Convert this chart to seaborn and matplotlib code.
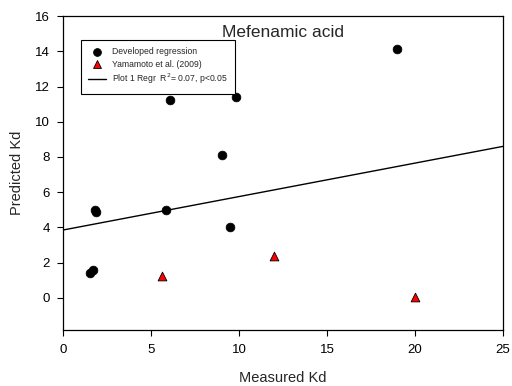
import matplotlib
matplotlib.use("Agg")
import matplotlib.pyplot as plt
import seaborn as sns
import pandas as pd

sns.set_theme(style="white")
plt.rcParams['font.family'] = ['Liberation Sans', 'DejaVu Sans']

# Data
dev_x = [19.0, 6.06, 9.81, 9.0, 1.8, 1.87, 5.83, 9.47, 1.5, 1.68]
dev_y = [14.1, 11.25, 11.42, 8.1, 5.0, 4.87, 5.0, 4.03, 1.42, 1.59]
yam_x = [5.6, 12.0, 20.0]
yam_y = [1.25, 2.39, 0.06]
reg_x = [0, 25]
reg_y = [3.86, 8.6]

fig = plt.figure(figsize=(5.12, 3.86), dpi=100)
ax = fig.add_axes([0.124, 0.145, 0.858, 0.8135])

sns.scatterplot(x=dev_x, y=dev_y, ax=ax, color='black', marker='o', s=40,
                edgecolor='black', linewidth=0.5, label='Developed regression', zorder=3)
sns.scatterplot(x=yam_x, y=yam_y, ax=ax, color='red', marker='^', s=40,
                edgecolor='black', linewidth=0.6, label='Yamamoto et al. (2009)', zorder=3)
sns.lineplot(x=reg_x, y=reg_y, ax=ax, color='black', linewidth=1.0,
             label=r'Plot 1 Regr  R$^2$= 0.07, p<0.05', zorder=2)

ax.set_xlim(0, 25)
ax.set_ylim(-1.82, 16)
ax.set_xticks([0, 5, 10, 15, 20, 25])
ax.set_yticks([0, 2, 4, 6, 8, 10, 12, 14, 16])
ax.tick_params(axis='both', which='both', direction='out', length=4, width=0.8,
               labelsize=9.5, colors='black', bottom=True, left=True, pad=6)
for s in ax.spines.values():
    s.set_color('black')
    s.set_linewidth(0.9)

ax.set_xlabel('Measured Kd', fontsize=10.5, labelpad=11)
ax.set_ylabel('Predicted Kd', fontsize=10.5, labelpad=8)
ax.text(0.5, 0.949, 'Mefenamic acid', transform=ax.transAxes, ha='center',
        va='center', fontsize=12.5)

leg = ax.legend(loc='upper left', bbox_to_anchor=(0.04, 0.924), fontsize=6.2,
                frameon=True, fancybox=False, edgecolor='black', borderpad=0.85,
                borderaxespad=0, handlelength=2.0, handletextpad=0.7,
                labelspacing=0.4, markerscale=0.9, framealpha=1)
leg.get_frame().set_linewidth(0.8)

fig.savefig('out.png', dpi=100)
